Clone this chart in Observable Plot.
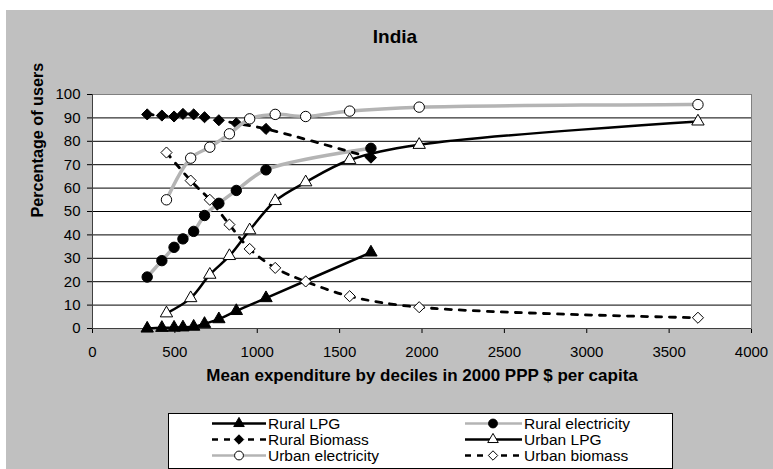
<!DOCTYPE html>
<html>
<head>
<meta charset="utf-8">
<script src="https://cdn.jsdelivr.net/npm/d3@7"></script>
<script src="https://cdn.jsdelivr.net/npm/@observablehq/plot@0.6"></script>
<style>
  html, body { margin: 0; padding: 0; background: #ffffff; }
  body { width: 773px; height: 469px; position: relative; overflow: hidden; font-family: "Liberation Sans", Arial, sans-serif; }
  #bg { position: absolute; left: 6px; top: 10px; width: 767px; height: 459px; background: #c0c0c0; }
  #chart { position: absolute; left: 0; top: 0; }
  #title { position: absolute; left: 295px; width: 200px; top: 26px; text-align: center; font-weight: bold; font-size: 19px; line-height: 22px; color: #000; }
  #legend { position: absolute; left: 168px; top: 413px; }
</style>
</head>
<body>
<div id="bg"></div>
<div id="chart"></div>
<div id="title">India</div>
<div id="legend"></div>
<script>
// ---- data ----
const ruralX = [332, 421, 495, 549, 614, 680, 767, 873, 1053, 1690];
const urbanX = [449, 596, 712, 831, 954, 1109, 1294, 1561, 1983, 3675];

const ruralLPG         = [0, 0.3, 0.4, 0.5, 0.8, 2, 4, 7.5, 13, 32.5];
const ruralElectricity = [22, 29, 34.7, 38.3, 41.5, 48.3, 53.5, 59, 67.8, 77];
const ruralBiomass     = [91.5, 91, 90.6, 91.7, 91.5, 90.3, 89, 87.7, 85.3, 73];
const urbanLPG         = [6.5, 13, 23, 31, 42, 54.5, 62.5, 72, 78.5, 88.5];
const urbanElectricity = [55, 72.8, 77.5, 83.2, 89.6, 91.5, 90.6, 92.9, 94.6, 95.7];
const urbanBiomass     = [75.2, 63.2, 55, 44.4, 34, 25.9, 20.1, 13.8, 9.1, 4.6];

const seriesNames = ["Rural LPG", "Rural electricity", "Rural Biomass", "Urban LPG", "Urban electricity", "Urban biomass"];
const xTicks = [0, 500, 1000, 1500, 2000, 2500, 3000, 3500, 4000];
const yTicks = [0, 10, 20, 30, 40, 50, 60, 70, 80, 90, 100];
const xLabel = "Mean expenditure by deciles in 2000 PPP $ per capita";
const yLabel = "Percentage of users";

// ---- styles ----
const GRAY = "#b4b4b4";
const DASH = "6,8";
const styles = [
  {line: {stroke: "black", strokeWidth: 2.5}, dot: {symbol: "triangle", r: 4.6, fill: "black", stroke: "black"}},
  {line: {stroke: GRAY, strokeWidth: 3.5}, dot: {symbol: "circle", r: 5.2, fill: "black", stroke: "black"}},
  {line: {stroke: "black", strokeWidth: 2.8, strokeDasharray: DASH}, dot: {symbol: "diamond2", r: 5, fill: "black", stroke: "black"}},
  {line: {stroke: "black", strokeWidth: 2.5}, dot: {symbol: "triangle", r: 4.6, fill: "white", stroke: "black"}},
  {line: {stroke: GRAY, strokeWidth: 3.5}, dot: {symbol: "circle", r: 5.2, fill: "white", stroke: "black"}},
  {line: {stroke: "black", strokeWidth: 2.8, strokeDasharray: DASH}, dot: {symbol: "diamond2", r: 5, fill: "white", stroke: "black"}}
];

const seriesValues = [ruralLPG, ruralElectricity, ruralBiomass, urbanLPG, urbanElectricity, urbanBiomass];
const seriesX = [ruralX, ruralX, ruralX, urbanX, urbanX, urbanX];
const series = seriesNames.map((name, i) => ({
  name,
  rows: seriesValues[i].map((v, j) => ({x: seriesX[i][j], y: v})),
  style: styles[i]
}));

const marks = [
  Plot.frame({fill: "white", stroke: "#808080"}),
  Plot.ruleY(yTicks.filter(d => d > 0 && d < 100), {stroke: "black", strokeWidth: 1}),
  Plot.ruleX([0], {stroke: "#404040", strokeWidth: 1}),
  Plot.ruleY([0], {stroke: "#404040", strokeWidth: 1})
];
for (const s of series) {
  marks.push(Plot.line(s.rows, {x: "x", y: "y", curve: "catmull-rom", ...s.style.line}));
  marks.push(Plot.dot(s.rows, {x: "x", y: "y", strokeWidth: 1, ...s.style.dot}));
}
marks.push(Plot.text([xLabel], {text: d => d, frameAnchor: "bottom", dy: 52, fontSize: 17, fontWeight: "bold", fill: "black"}));
marks.push(Plot.text([yLabel], {text: d => d, frameAnchor: "left", dx: -55, dy: 6, rotate: -90, fontSize: 16.2, fontWeight: "bold", fill: "black"}));

const chart = Plot.plot({
  width: 773,
  height: 469,
  marginLeft: 92,
  marginTop: 94,
  marginRight: 22,
  marginBottom: 141,
  style: {background: "transparent", fontSize: "15px", fontFamily: "'Liberation Sans', Arial, sans-serif", color: "black", overflow: "visible"},
  x: {domain: [0, 4000], ticks: xTicks, tickSize: 5, tickPadding: 13, tickFormat: "d", label: null},
  y: {domain: [0, 100], ticks: yTicks, tickSize: 5, tickPadding: 7, tickFormat: "d", label: null},
  marks
});
document.getElementById("chart").appendChild(chart);

// ---- legend ----
const lw = 505, lh = 56;
const lsvg = d3.select("#legend").append("svg").attr("width", lw).attr("height", lh)
  .style("font-family", "'Liberation Sans', Arial, sans-serif").style("overflow", "visible");
lsvg.append("rect").attr("x", 0.5).attr("y", 0.5).attr("width", lw - 1).attr("height", lh - 1)
  .attr("fill", "white").attr("stroke", "black");
const symMap = {triangle: d3.symbolTriangle, circle: d3.symbolCircle, diamond2: d3.symbolDiamond2};
const cols = [{x0: 44, x1: 98, m: 71, t: 100}, {x0: 297, x1: 354, m: 325, t: 356}];
const rowsY = [10.5, 26.5, 42.5];
series.forEach((s, i) => {
  const c = cols[i % 2], y = rowsY[Math.floor(i / 2)];
  const ln = s.style.line, dt = s.style.dot;
  lsvg.append("line").attr("x1", c.x0).attr("x2", c.x1).attr("y1", y).attr("y2", y)
    .attr("stroke", ln.stroke).attr("stroke-width", Math.min(ln.strokeWidth, 2.5))
    .attr("stroke-dasharray", ln.strokeDasharray ? "6,6" : null);
  const r = dt.r * 0.85;
  lsvg.append("path").attr("transform", `translate(${c.m},${y})`)
    .attr("d", d3.symbol(symMap[dt.symbol], Math.PI * r * r)())
    .attr("fill", dt.fill).attr("stroke", dt.stroke).attr("stroke-width", 1);
  lsvg.append("text").attr("x", c.t).attr("y", y).attr("dy", "0.35em")
    .attr("font-size", 15.5).attr("fill", "black").text(s.name);
});
</script>
</body>
</html>
